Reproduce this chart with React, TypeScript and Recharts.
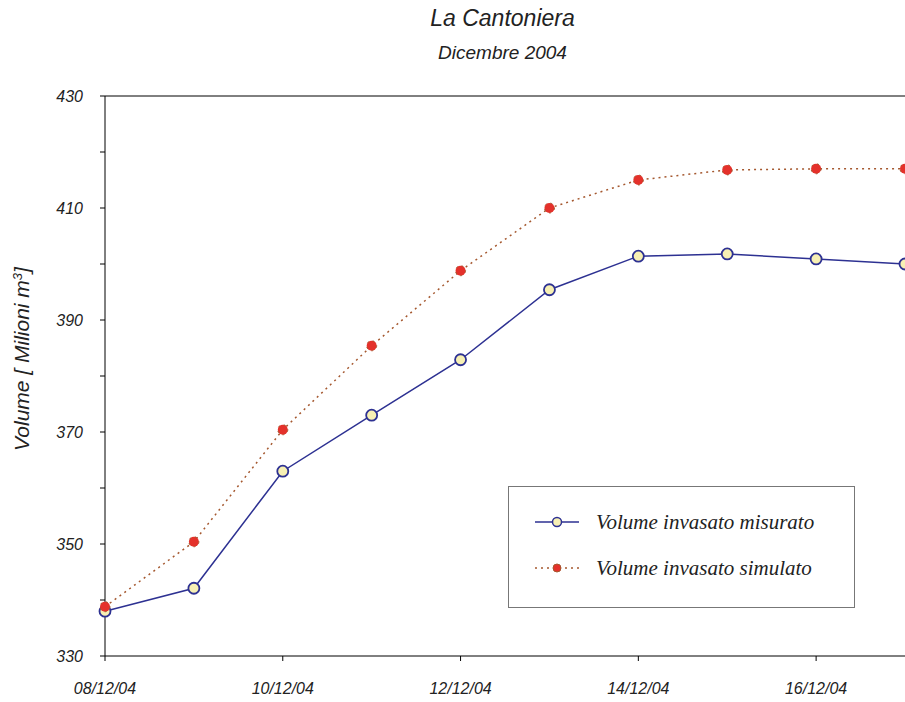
import React from 'react';
import { LineChart, Line, XAxis, YAxis, ReferenceLine } from 'recharts';

// giorni di dicembre 2004
const giorni = [8, 9, 10, 11, 12, 13, 14, 15, 16, 17];
const misurato = [338.0, 342.1, 363.0, 373.0, 382.9, 395.4, 401.4, 401.8, 400.9, 400.0];
const simulato = [338.8, 350.4, 370.4, 385.4, 398.8, 410.0, 415.0, 416.8, 417.0, 417.0];

const xTicks = [8, 10, 12, 14, 16];
const xLabels = ['08/12/04', '10/12/04', '12/12/04', '14/12/04', '16/12/04'];
const yTicks = [330, 340, 350, 360, 370, 380, 390, 400, 410, 420, 430];
const yLabelled = [330, 350, 370, 390, 410, 430];

const data = giorni.map((g, i) => ({ giorno: g, misurato: misurato[i], simulato: simulato[i] }));

const NAVY = '#2d3192';
const CREAM = '#f7f0b4';
const RED = '#e4312b';
const BROWN = '#a5582f';
const FONT = '"Liberation Sans", Arial, sans-serif';
const SERIF = '"Liberation Serif", "Times New Roman", serif';

const tickStyle = { fontFamily: FONT, fontStyle: 'italic', fontSize: 16, fill: '#222' };

const LegendBox = () => (
  <div
    style={{
      position: 'absolute',
      left: 508,
      top: 486,
      width: 347,
      height: 122,
      border: '1px solid #777',
      background: '#fff',
      boxSizing: 'border-box',
      fontFamily: SERIF,
      fontStyle: 'italic',
      fontSize: 21,
      color: '#222',
    }}
  >
    <div style={{ display: 'flex', alignItems: 'center', marginTop: 22, height: 26 }}>
      <svg width={87} height={20}>
        <line x1={26} y1={10} x2={70} y2={10} stroke={NAVY} strokeWidth={1.5} />
        <circle cx={48} cy={10} r={4.5} fill={CREAM} stroke={NAVY} strokeWidth={1.5} />
      </svg>
      <span>Volume invasato misurato</span>
    </div>
    <div style={{ display: 'flex', alignItems: 'center', marginTop: 20, height: 26 }}>
      <svg width={87} height={20}>
        <line x1={26} y1={10} x2={70} y2={10} stroke={BROWN} strokeWidth={1.5} strokeDasharray="2 4" />
        <circle cx={48} cy={10} r={4} fill={RED} stroke={BROWN} strokeWidth={1} />
      </svg>
      <span>Volume invasato simulato</span>
    </div>
  </div>
);

export default function App() {
  return (
    <div style={{ position: 'absolute', left: 0, top: 0, width: 905, height: 702, background: '#fff', overflow: 'hidden' }}>
      <div style={{ position: 'absolute', top: 5, width: 905, left: 50, textAlign: 'center', fontFamily: FONT, fontStyle: 'italic', fontSize: 23, color: '#222' }}>
        La Cantoniera
      </div>
      <div style={{ position: 'absolute', top: 42, width: 905, left: 50, textAlign: 'center', fontFamily: FONT, fontStyle: 'italic', fontSize: 19, color: '#222' }}>
        Dicembre 2004
      </div>
      <svg style={{ position: 'absolute', left: 0, top: 0 }} width={50} height={702}>
        <text
          transform="translate(29,359) rotate(-90)"
          textAnchor="middle"
          fontFamily={FONT}
          fontStyle="italic"
          fontSize={21}
          fill="#222"
        >
          Volume [ Milioni m<tspan baselineShift="super" fontSize={13}>3</tspan>]
        </text>
      </svg>
      <LineChart
        width={905}
        height={702}
        data={data}
        margin={{ top: 96, right: 0, bottom: 0, left: 0 }}
        style={{ position: 'absolute', left: 0, top: 0 }}
      >
        <XAxis
          dataKey="giorno"
          type="number"
          domain={[8, 17]}
          ticks={xTicks}
          tickFormatter={(v: number) => xLabels[xTicks.indexOf(v)] ?? ''}
          height={46}
          stroke="#000"
          tickSize={5}
          tickMargin={22}
          tick={tickStyle}
        />
        <YAxis
          type="number"
          domain={[330, 430]}
          ticks={yTicks}
          tickFormatter={(v: number) => (yLabelled.includes(v) ? String(v) : '')}
          width={105}
          stroke="#000"
          tickSize={5}
          tickMargin={17}
          tick={tickStyle}
          interval={0}
        />
        <ReferenceLine y={430} stroke="#000" strokeWidth={1} />
        <Line
          dataKey="misurato"
          type="linear"
          stroke={NAVY}
          strokeWidth={1.5}
          dot={{ r: 5.5, fill: CREAM, stroke: NAVY, strokeWidth: 1.8 }}
          isAnimationActive={false}
        />
        <Line
          dataKey="simulato"
          type="linear"
          stroke={BROWN}
          strokeWidth={1.5}
          strokeDasharray="2 4"
          dot={{ r: 5, fill: RED, stroke: BROWN, strokeWidth: 1 }}
          isAnimationActive={false}
        />
      </LineChart>
      <LegendBox />
    </div>
  );
}
